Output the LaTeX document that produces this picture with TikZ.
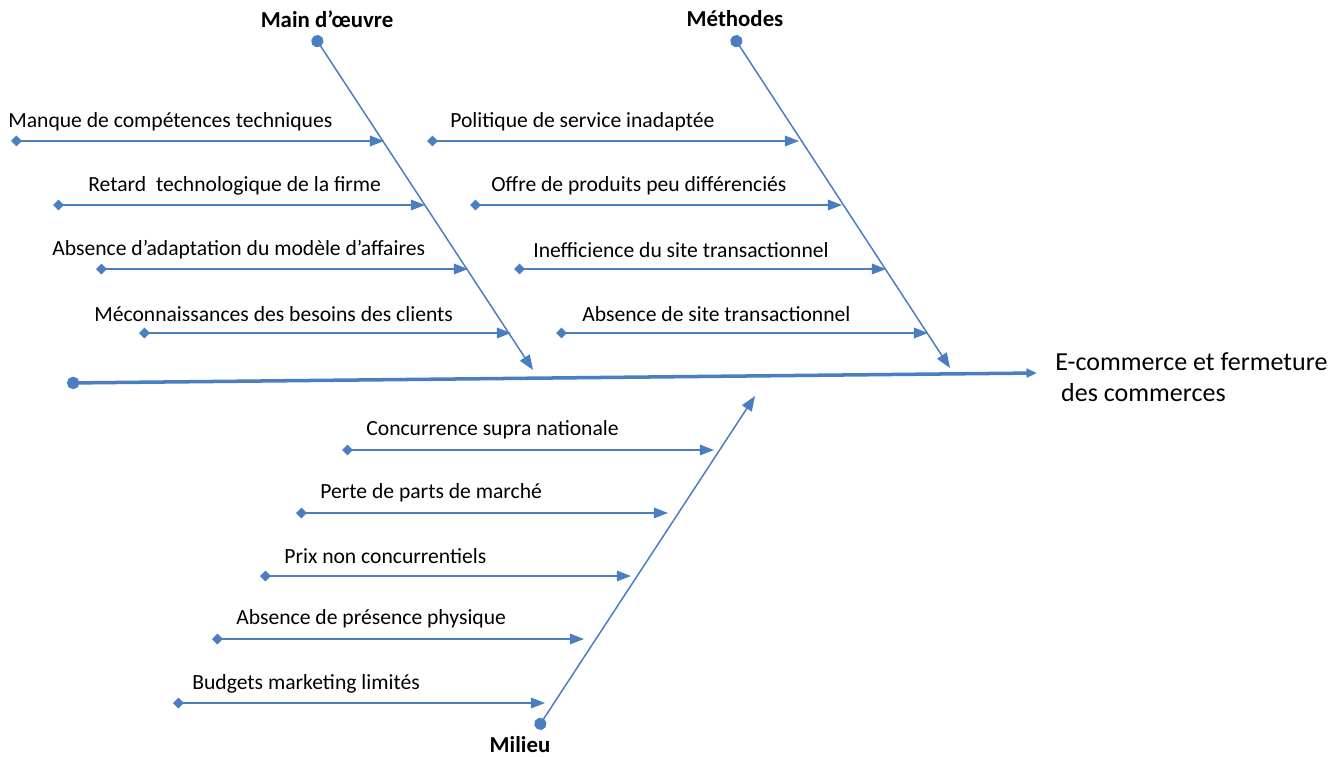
\documentclass[tikz,border=0pt]{standalone}
\usepackage{fontspec}
\setmainfont{Carlito}
\usetikzlibrary{arrows.meta, positioning}
\definecolor{bonecol}{RGB}{74,126,193}

\begin{document}
\begin{tikzpicture}[
    x=0.02cm, y=-0.02cm,
    cause/.style={anchor=west, inner sep=0pt, font=\fontsize{12.3}{14}\selectfont},
    category/.style={inner sep=0pt, font=\fontsize{13}{15}\selectfont\bfseries},
    effect/.style={anchor=north west, inner sep=0pt, align=left, font=\fontsize{14.8}{18.1}\selectfont},
    subbranch/.style={draw=bonecol, line width=0.85pt, {Diamond[length=6.2pt,width=6.2pt]}-{Triangle[length=8pt,width=6pt]}},
    bone/.style={draw=bonecol, line width=0.85pt, {Circle[length=7pt]}-{Triangle[length=8.5pt,width=6.5pt]}},
    spine/.style={draw=bonecol, line width=2pt, {Circle[length=7pt]}-{Triangle[length=6pt,width=5pt]}}
]
\useasboundingbox (0,0) rectangle (1339,757);

% Spine and effect
\coordinate (tail) at (67,383);
\coordinate (head) at (1037,373);
\node (effect) [effect] at (1055,352) {E-commerce et fermeture\\\ des commerces};

% Categories
\node (mainoeuvre) [category] at (327,19) {Main d’œuvre};
\node (methodes) [category] at (735,19) {Méthodes};
\node (milieu) [category] at (520,745) {Milieu};
\coordinate (mo1) at (314,36);
\coordinate (mo2) at (533,370);
\coordinate (me1) at (733,36);
\coordinate (me2) at (950,368);
\coordinate (mi1) at (537,729);
\coordinate (mi2) at (755,396);

% Main d'oeuvre causes
\coordinate (a1) at (11,141);  \coordinate (b1) at (384,141);
\coordinate (a2) at (53,205);  \coordinate (b2) at (425,205);
\coordinate (a3) at (96,269);  \coordinate (b3) at (468,269);
\coordinate (a4) at (139,333); \coordinate (b4) at (511,333);
\node (t1) [cause] at (8,122) {Manque de compétences techniques};
\node (t2) [cause] at (88,186) {Retard\ \ technologique de la firme};
\node (t3) [cause] at (52,250) {Absence d’adaptation du modèle d’affaires};
\node (t4) [cause] at (94,314) {Méconnaissances des besoins des clients};

% Methodes causes
\coordinate (a5) at (427,141); \coordinate (b5) at (799,141);
\coordinate (a6) at (470,205); \coordinate (b6) at (842,205);
\coordinate (a7) at (514,269); \coordinate (b7) at (886,269);
\coordinate (a8) at (556,333); \coordinate (b8) at (928,333);
\node (t5) [cause] at (450,122) {Politique de service inadaptée};
\node (t6) [cause] at (491,186) {Offre de produits peu différenciés};
\node (t7) [cause] at (533,250) {Inefficience du site transactionnel};
\node (t8) [cause] at (582,314) {Absence de site transactionnel};

% Milieu causes
\coordinate (a9) at (342,450);  \coordinate (b9) at (714,450);
\coordinate (a10) at (296,513); \coordinate (b10) at (668,513);
\coordinate (a11) at (260,576); \coordinate (b11) at (631,576);
\coordinate (a12) at (212,639); \coordinate (b12) at (584,639);
\coordinate (a13) at (173,703); \coordinate (b13) at (545,703);
\node (t9) [cause] at (366,430) {Concurrence supra nationale};
\node (t10) [cause] at (320,493) {Perte de parts de marché};
\node (t11) [cause] at (284,556) {Prix non concurrentiels};
\node (t12) [cause] at (236,619) {Absence de présence physique};
\node (t13) [cause] at (192,684) {Budgets marketing limités};

% Arrows
\draw [spine] (tail) -- (head);
\draw [bone] (mo1) -- (mo2);
\draw [bone] (me1) -- (me2);
\draw [bone] (mi1) -- (mi2);
\draw [subbranch] (a1) -- (b1);
\draw [subbranch] (a2) -- (b2);
\draw [subbranch] (a3) -- (b3);
\draw [subbranch] (a4) -- (b4);
\draw [subbranch] (a5) -- (b5);
\draw [subbranch] (a6) -- (b6);
\draw [subbranch] (a7) -- (b7);
\draw [subbranch] (a8) -- (b8);
\draw [subbranch] (a9) -- (b9);
\draw [subbranch] (a10) -- (b10);
\draw [subbranch] (a11) -- (b11);
\draw [subbranch] (a12) -- (b12);
\draw [subbranch] (a13) -- (b13);

\end{tikzpicture}
\end{document}
